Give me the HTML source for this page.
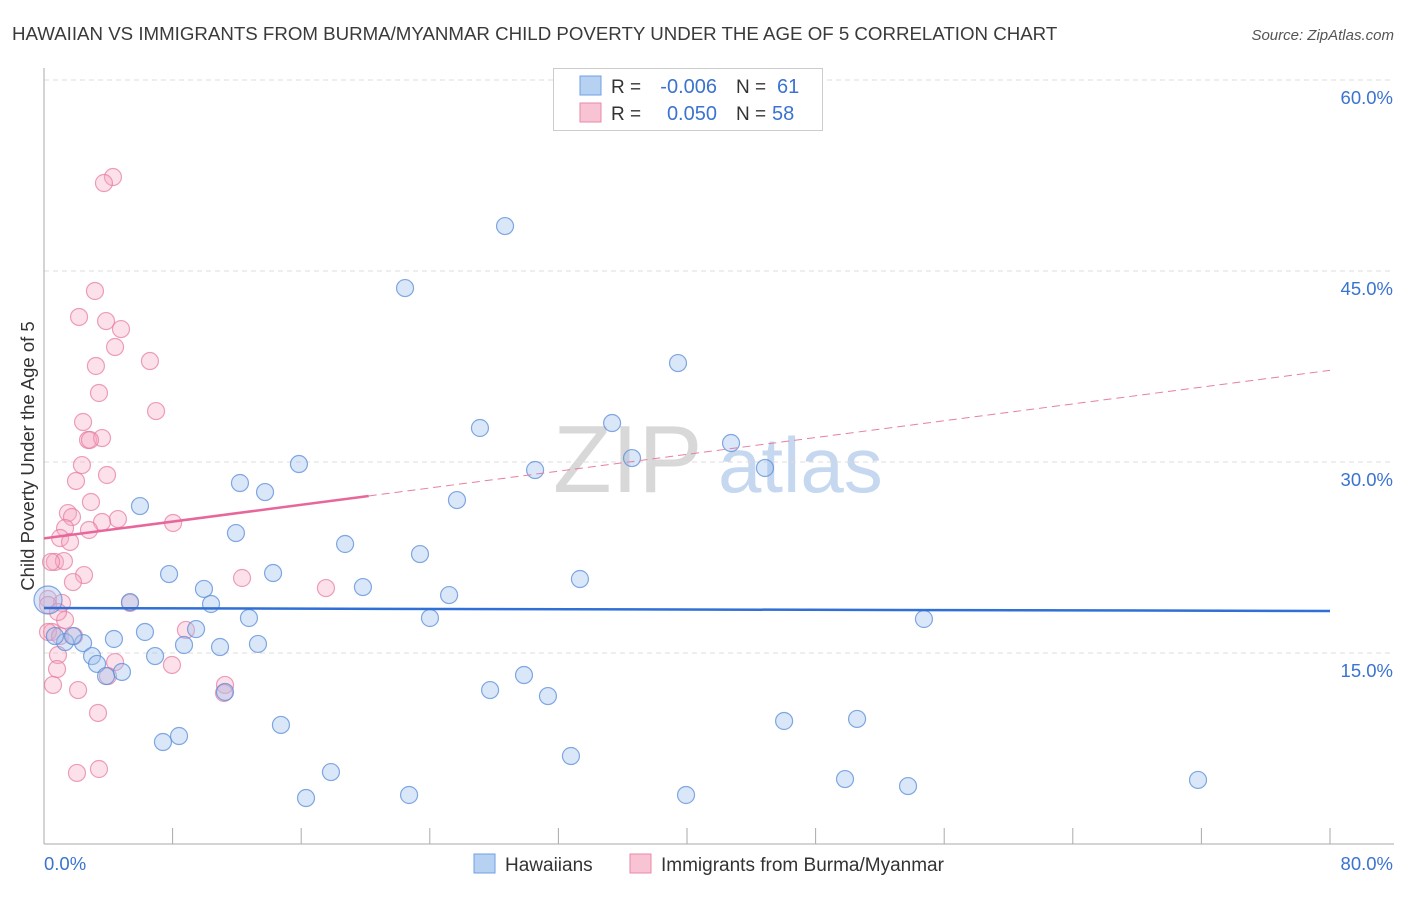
<!DOCTYPE html>
<html><head><meta charset="utf-8"><style>
body{margin:0;background:#fff;font-family:"Liberation Sans",sans-serif;}
svg text{font-family:"Liberation Sans",sans-serif;}
</style></head><body>
<svg id="chart" width="1406" height="892" xmlns="http://www.w3.org/2000/svg">
<text x="12" y="40" font-size="18.7" fill="#3a3a3a">HAWAIIAN VS IMMIGRANTS FROM BURMA/MYANMAR CHILD POVERTY UNDER THE AGE OF 5 CORRELATION CHART</text>
<text x="1394" y="40" font-size="15" fill="#555" text-anchor="end" font-style="italic">Source: ZipAtlas.com</text>
<g>
<text x="553" y="492" font-size="96" fill="#d8d8d8" font-family="Liberation Serif">ZIP</text>
<text x="718" y="492" font-size="78" fill="#c5d8f0">atlas</text>
</g>
<g id="grid"></g>
<g id="axes"></g>
<g id="marks"></g>
<g>
<rect x="553.500" y="68.500" width="269" height="62" fill="#fff" stroke="#ccc"/>
<rect x="580" y="76" width="21" height="19" fill="#b7d1f3" stroke="#6f9fe0"/>
<rect x="580" y="103" width="21" height="19" fill="#f8c3d3" stroke="#e88aa8"/>
<text x="611" y="93" font-size="19" fill="#333">R =</text>
<text x="717" y="93" font-size="20" fill="#3a73d0" text-anchor="end">-0.006</text>
<text x="736" y="93" font-size="19" fill="#333">N =</text>
<text x="777" y="93" font-size="20" fill="#3a73d0">61</text>
<text x="611" y="120" font-size="19" fill="#333">R =</text>
<text x="717" y="120" font-size="20" fill="#3a73d0" text-anchor="end">0.050</text>
<text x="736" y="120" font-size="19" fill="#333">N =</text>
<text x="772" y="120" font-size="20" fill="#3a73d0">58</text>
</g>
<g>
<rect x="474" y="854" width="21" height="19" fill="#b7d1f3" stroke="#6f9fe0"/>
<text x="505" y="871" font-size="19" fill="#333">Hawaiians</text>
<rect x="630" y="854" width="21" height="19" fill="#f8c3d3" stroke="#e88aa8"/>
<text x="661" y="871" font-size="19" fill="#333">Immigrants from Burma/Myanmar</text>
</g>
<text transform="translate(34,456) rotate(-90)" font-size="18.5" fill="#333" text-anchor="middle">Child Poverty Under the Age of 5</text>
</svg>
<script>
const yTicks=[15,30,45,60];
const yTickLabels=["15.0%","30.0%","45.0%","60.0%"];
const xTicks=[0,8,16,24,32,40,48,56,64,72,80];
const blueX=[28.68,22.46,39.44,35.34,27.12,42.74,36.58,30.55,44.85,15.86,12.19,13.75,25.69,5.97,11.94,18.73,23.39,7.78,14.25,33.34,9.95,19.84,25.20,10.39,5.35,12.75,24.01,54.74,9.46,6.28,4.35,1.31,2.43,8.71,10.95,13.31,6.91,2.99,3.30,4.85,3.86,27.75,29.86,31.35,11.26,14.74,46.04,50.58,8.40,7.40,32.78,17.85,49.83,71.79,16.30,22.71,39.94,53.75,0.25,0.68,1.80];
const blueY=[48.53,43.66,37.77,33.06,32.67,31.49,30.31,29.37,29.53,29.84,28.35,27.64,27.01,26.54,24.42,23.56,22.77,21.20,21.28,20.81,20.03,20.18,19.55,18.85,19.00,17.75,17.75,17.67,16.88,16.65,16.10,15.86,15.78,15.63,15.47,15.71,14.76,14.76,14.14,13.51,13.19,12.09,13.27,11.62,11.94,9.35,9.66,9.82,8.48,8.01,6.91,5.65,5.10,5.03,3.61,3.85,3.85,4.55,19.16,16.33,16.33];
const pinkX=[4.29,3.73,3.17,2.18,3.86,4.79,4.42,6.59,3.23,3.42,6.97,2.43,2.74,3.61,2.86,2.36,3.92,1.99,2.92,1.49,1.74,4.60,3.61,8.03,1.31,2.80,1.00,1.62,0.68,1.24,0.44,2.49,1.80,12.32,17.54,0.25,1.12,5.35,1.31,0.50,8.83,0.25,1.00,1.87,4.42,0.87,7.96,0.81,3.98,0.56,2.12,11.26,11.20,3.36,3.42,2.05,0.25,0.87];
const pinkY=[52.38,51.91,43.43,41.39,41.07,40.44,39.03,37.93,37.54,35.42,34.00,33.14,31.73,31.88,31.73,29.76,28.98,28.51,26.86,25.99,25.68,25.52,25.29,25.21,24.81,24.66,24.03,23.72,22.15,22.22,22.15,21.12,20.57,20.89,20.10,19.24,18.93,18.93,17.59,16.65,16.81,16.65,16.33,16.33,14.29,14.84,14.06,13.74,13.19,12.49,12.09,12.49,11.86,10.29,5.89,5.58,18.77,18.22];
const blueTrend=[18.53,18.30];
const pinkTrend=[24.0,37.2];
const pinkSolidEnd=20.2;

const NS="http://www.w3.org/2000/svg";
const X=v=>44+v/80*1286;
const Y=v=>844-v/15*191;
function mk(tag,attrs,parent){const e=document.createElementNS(NS,tag);for(const k in attrs)e.setAttribute(k,attrs[k]);parent.appendChild(e);return e;}
const grid=document.getElementById('grid'),axes=document.getElementById('axes'),marks=document.getElementById('marks');
yTicks.forEach((t,i)=>{
 const l=mk('line',{x1:44,x2:1394,y1:Y(t),y2:Y(t),stroke:'#ddd','stroke-dasharray':'5,4'},grid);
 
 
 const tx=mk('text',{x:1393,y:Y(t)+24,'font-size':18.5,fill:'#3a73d0','text-anchor':'end'},axes);
 tx.textContent=yTickLabels[i];
 
 
});
const ax=mk('line',{x1:44,x2:44,y1:68,y2:844,stroke:'#aaa'},axes);


const bx=mk('line',{x1:44,x2:1394,y1:844,y2:844,stroke:'#aaa'},axes);


xTicks.forEach(t=>{const l=mk('line',{x1:X(t),x2:X(t),y1:828,y2:844,stroke:'#aaa'},axes);
 
 });
const x0=mk('text',{x:44,y:870,'font-size':18.5,fill:'#3a73d0'},axes);x0.textContent='0.0%';


const x1=mk('text',{x:1393,y:870,'font-size':18.5,fill:'#3a73d0','text-anchor':'end'},axes);x1.textContent='80.0%';



pinkX.forEach((v,i)=>{const c=mk('circle',{cx:X(v),cy:Y(pinkY[i]),r:8.5,fill:'rgba(245,170,195,0.35)',stroke:'rgba(230,120,160,0.7)','stroke-width':1.2},marks);
 
 });
blueX.forEach((v,i)=>{const c=mk('circle',{cx:X(v),cy:Y(blueY[i]),r:i==58?14:8.5,fill:'rgba(160,195,240,0.4)',stroke:'rgba(90,140,215,0.75)','stroke-width':1.2},marks);
 
 });
const bt=mk('line',{x1:X(0),y1:Y(blueTrend[0]),x2:X(80),y2:Y(blueTrend[1]),stroke:'#2f6fd6','stroke-width':2.5},marks);


const py=x=>pinkTrend[0]+(pinkTrend[1]-pinkTrend[0])*x/80;
const pd=mk('line',{x1:X(pinkSolidEnd),y1:Y(py(pinkSolidEnd)),x2:X(80),y2:Y(pinkTrend[1]),stroke:'#e67fa3','stroke-width':1,'stroke-dasharray':'8,5'},marks);


const ps=mk('line',{x1:X(0),y1:Y(pinkTrend[0]),x2:X(pinkSolidEnd),y2:Y(py(pinkSolidEnd)),stroke:'#e8679a','stroke-width':2.5},marks);


</script>
</body></html>
